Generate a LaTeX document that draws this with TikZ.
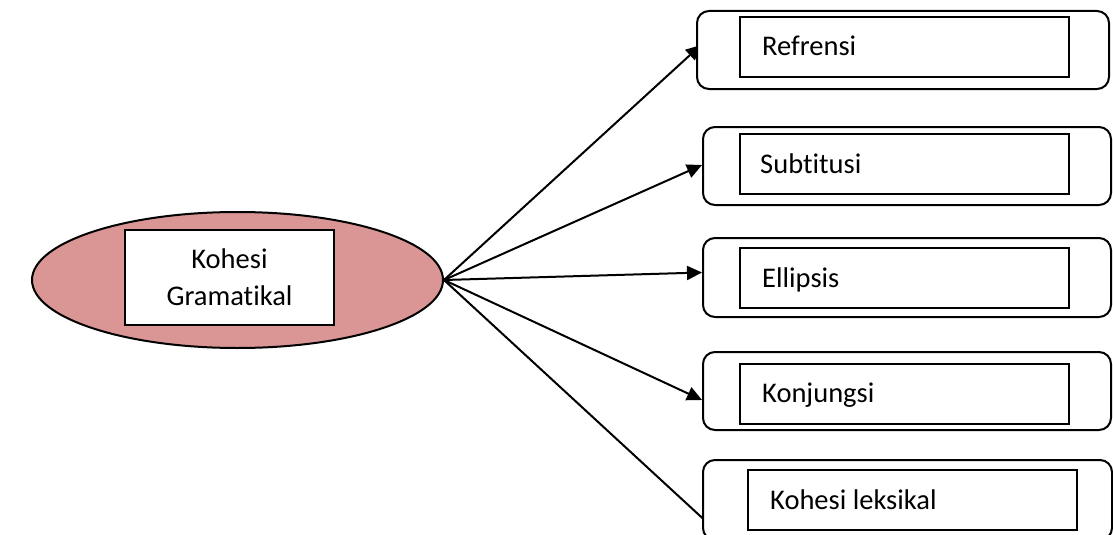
\documentclass[tikz,border=0pt]{standalone}
\usepackage{fontspec}
\setmainfont{Carlito}[Ligatures={NoCommon}]
\usetikzlibrary{shapes.geometric,arrows.meta}
\pgfdeclarelayer{background}
\pgfsetlayers{background,main}
\definecolor{ellfill}{HTML}{D99694}
\begin{document}
\begin{tikzpicture}[x=1pt,y=-1pt,
  outerbox/.style={draw,line width=2pt,rounded corners=12pt,fill=white,minimum height=78pt,inner sep=0pt},
  innerbox/.style={draw,line width=2pt,fill=white,minimum width=329pt,minimum height=60pt,inner sep=0pt},
  lbl/.style={font=\fontsize{28.5}{34}\selectfont,anchor=base west,inner sep=0pt},
  clbl/.style={font=\fontsize{28.5}{34}\selectfont,anchor=base,inner sep=0pt},
  conn/.style={line width=2pt,-{Triangle[length=15pt,width=14pt]}}]
\useasboundingbox (0,0) rectangle (1113,535);
% central ellipse
\node[ellipse,draw,line width=2pt,fill=ellfill,minimum width=411pt,minimum height=136pt,inner sep=0pt] (ell) at (237.5,280) {};
\node[draw,line width=2pt,fill=white,minimum width=209pt,minimum height=95pt,inner sep=0pt] (cbox) at (229.5,277.5) {};
\node[clbl] (t1) at (229.5,268) {Kohesi};
\node[clbl] (t2) at (229.5,305) {Gramatikal};
% right boxes
\node[outerbox,minimum width=412pt] (b1) at (903,50) {};
\node[innerbox] (i1) at (904.5,47) {};
\node[lbl] (l1) at (762,56) {Refrensi};
\node[outerbox,minimum width=408pt] (b2) at (907,166) {};
\node[innerbox] (i2) at (904.5,164) {};
\node[lbl] (l2) at (760,173) {Subtitusi};
\node[outerbox,minimum width=408pt,minimum height=79pt] (b3) at (907,277.5) {};
\node[innerbox] (i3) at (904.5,278) {};
\node[lbl] (l3) at (762,287) {Ellipsis};
\node[outerbox,minimum width=408pt] (b4) at (907,391) {};
\node[innerbox] (i4) at (904.5,393.5) {};
\node[lbl] (l4) at (762,402) {Konjungsi};
\node[outerbox,minimum width=409pt,minimum height=80pt] (b5) at (907.5,500) {};
\node[innerbox] (i5) at (912.5,500) {};
\node[lbl] (l5) at (770,509) {Kohesi leksikal};
% connectors
\begin{pgfonlayer}{background}
\draw[conn] (ell.east) -- ([xshift=5pt,yshift=5pt]b1.west);
\draw[conn] (ell.east) -- ([yshift=1pt]b2.west);
\draw[conn] (ell.east) -- ([yshift=5pt]b3.west);
\draw[conn] (ell.east) -- ([yshift=-9pt]b4.west);
\draw[conn] (ell.east) -- ([xshift=22pt,yshift=-38pt]b5.west);
\end{pgfonlayer}
\end{tikzpicture}
\end{document}
